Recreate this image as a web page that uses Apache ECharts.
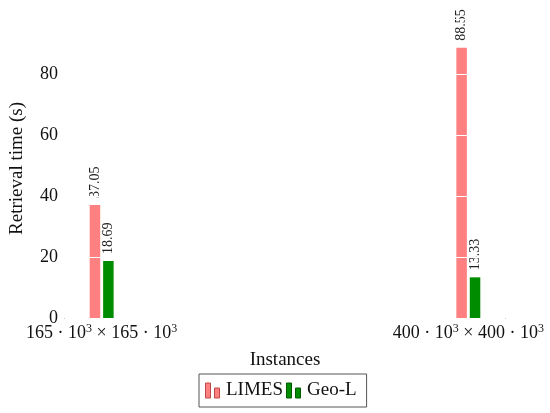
<!DOCTYPE html>
<html>
<head>
<meta charset="utf-8">
<script src="https://cdn.jsdelivr.net/npm/echarts@6/dist/echarts.min.js"></script>
<style>
  html, body { margin: 0; padding: 0; background: #fff; }
  #chart { width: 550px; height: 413px; }
</style>
</head>
<body>
<div id="chart"></div>
<script>
// data
const categories = ['165·10^3 × 165·10^3', '400·10^3 × 400·10^3'];
const seriesNames = ['LIMES', 'Geo-L'];
const limes = [37.05, 88.55];
const geoL = [18.69, 13.33];

const FONT = '"Liberation Serif", "DejaVu Serif", serif';

// "165·10^3" -> rich text with a small raised 3
function toRich(txt) {
    return txt.split(/\^(\d)/).map(function (part, i) {
        return i % 2 ? '{sup|' + part + '}' : '{b|' + part.replace(/·/g, ' · ') + '}';
    }).join('');
}

var myChart = echarts.init(document.getElementById('chart'));
var option = {
    animation: false,
    textStyle: { fontFamily: FONT },
    grid: { left: 62, right: 45, top: 19, bottom: 95 },
    legend: {
        data: [
            { name: seriesNames[0], itemStyle: { borderColor: '#c04848', borderWidth: 1 } },
            { name: seriesNames[1], itemStyle: { borderColor: '#005a00', borderWidth: 1 } }
        ],
        left: 199,
        top: 374,
        icon: 'path://M0,0h5v15h-5z M9,5h5v10h-5z',
        itemWidth: 17,
        itemHeight: 15,
        itemGap: 3,
        padding: [7, 10, 7, 6],
        borderColor: '#555',
        borderWidth: 1,
        borderRadius: 0,
        textStyle: { fontFamily: FONT, fontSize: 19, color: '#111' }
    },
    xAxis: {
        type: 'value',
        min: -0.1,
        max: 1.1,
        interval: 0.1,
        name: 'Instances',
        nameLocation: 'middle',
        nameGap: 33,
        nameTextStyle: { fontFamily: FONT, fontSize: 19, color: '#111' },
        axisLine: { lineStyle: { color: '#808080', width: 1 } },
        axisTick: { show: false },
        splitLine: { show: false },
        axisLabel: {
            margin: 5,
            color: '#111',
            formatter: function (v) {
                var i = Math.round(v);
                if (Math.abs(v - i) > 1e-6 || !categories[i]) return '';
                return toRich(categories[i]);
            },
            rich: {
                b: { fontFamily: FONT, fontSize: 18, color: '#111' },
                sup: { fontFamily: FONT, fontSize: 12, color: '#111', verticalAlign: 'top', padding: [0, 0, 9, 0] }
            }
        }
    },
    yAxis: {
        type: 'value',
        min: 0,
        max: 98,
        interval: 20,
        z: 3,
        name: 'Retrieval time (s)',
        nameLocation: 'middle',
        nameGap: 38,
        nameTextStyle: { fontFamily: FONT, fontSize: 19, color: '#111' },
        axisLine: { show: false },
        axisTick: { show: false },
        axisLabel: { showMaxLabel: false, fontSize: 18, color: '#111', margin: 7, fontFamily: FONT },
        splitLine: { show: true, lineStyle: { color: '#ffffff', width: 1 } }
    },
    series: [
        {
            name: seriesNames[0],
            type: 'bar',
            barWidth: 10.5,
            barGap: '28%',
            z: 1,
            itemStyle: { color: '#ff8080' },
            label: {
                show: true, position: 'top', rotate: 90, align: 'left', verticalAlign: 'middle',
                distance: 7, fontSize: 14, color: '#222', fontFamily: FONT
            },
            data: limes.map(function (v, i) { return [i, v]; })
        },
        {
            name: seriesNames[1],
            type: 'bar',
            barWidth: 10.5,
            barGap: '28%',
            z: 1,
            itemStyle: { color: '#008c00' },
            label: {
                show: true, position: 'top', rotate: 90, align: 'left', verticalAlign: 'middle',
                distance: 7, fontSize: 14, color: '#222', fontFamily: FONT
            },
            data: geoL.map(function (v, i) { return [i, v]; })
        }
    ]
};
myChart.setOption(option);
</script>
</body>
</html>
